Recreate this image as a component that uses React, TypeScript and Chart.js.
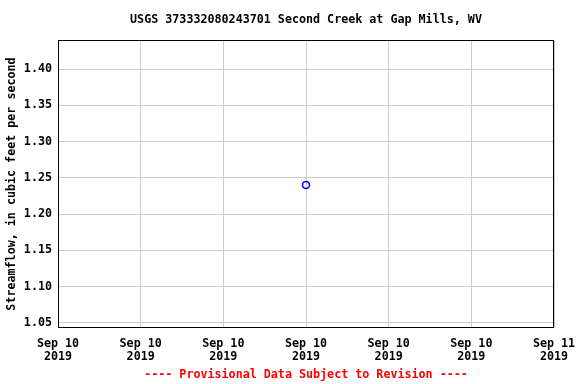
import React, { useEffect, useRef } from "react";
import { Chart, registerables } from "chart.js";

Chart.register(...registerables);

const titleText = "USGS 373332080243701 Second Creek at Gap Mills, WV";
const yAxisTitle = "Streamflow, in cubic feet per second";
const footerText = "---- Provisional Data Subject to Revision ----";
// hours since Sep 10 2019 00:00
const pointHours = [12];
const pointValues = [1.24];
const xTickHours = [0, 4, 8, 12, 16, 20, 24];
const xTickDates = ["Sep 10", "Sep 10", "Sep 10", "Sep 10", "Sep 10", "Sep 10", "Sep 11"];
const xTickYears = ["2019", "2019", "2019", "2019", "2019", "2019", "2019"];

const FONT = "'DejaVu Sans Mono', 'Liberation Mono', monospace";
const FS = 11.7;

export default function App() {
  const ref = useRef<HTMLCanvasElement | null>(null);
  useEffect(() => {
    document.body.style.margin = "0";
    const ctx = ref.current!;
    const chart = new Chart(ctx, {
      type: "scatter",
      data: {
        datasets: [
          {
            data: pointHours.map((h, i) => ({ x: h, y: pointValues[i] })),
            borderColor: "#0000ff",
            backgroundColor: "rgba(0,0,0,0)",
            pointRadius: 3.5,
            pointBorderWidth: 1.5,
            showLine: false,
          },
        ],
      },
      options: {
        animation: false,
        responsive: false,
        layout: { padding: { top: 0, right: 22, bottom: 0, left: 0 } },
        plugins: {
          legend: { display: false },
          tooltip: { enabled: false },
          title: {
            display: true,
            fullSize: false,
            text: titleText,
            color: "#000",
            font: { family: FONT, size: FS, weight: "bold", lineHeight: 1.2 },
            padding: { top: 12.5, bottom: 13.5 },
          },
          subtitle: {
            display: true,
            fullSize: false,
            position: "bottom",
            text: footerText,
            color: "#ff0000",
            font: { family: FONT, size: FS, weight: "bold", lineHeight: 1.2 },
            padding: { top: 0, bottom: 2 },
          },
        },
        scales: {
          x: {
            type: "linear",
            min: 0,
            max: 24,
            afterFit: (s: any) => {
              s.height = 40;
              s.paddingLeft = 0;
              s.paddingRight = 0;
            },
            afterBuildTicks: (s: any) => {
              s.ticks = xTickHours.map((v) => ({ value: v }));
            },
            ticks: {
              autoSkip: false,
              maxRotation: 0,
              padding: 10,
              color: "#000",
              font: { family: FONT, size: FS, weight: "bold", lineHeight: 1.07 },
              callback: (v: any) => {
                const i = xTickHours.indexOf(Number(v));
                return i >= 0 ? [xTickDates[i], xTickYears[i]] : "";
              },
            },
            grid: { color: "#cccccc", drawTicks: false, lineWidth: 1 },
            border: { display: false },
          },
          y: {
            min: 1.043,
            max: 1.44,
            afterFit: (s: any) => {
              s.width = 58;
              s.paddingTop = 0;
              s.paddingBottom = 0;
            },
            ticks: {
              stepSize: 0.05,
              includeBounds: false,
              padding: 6,
              color: "#000",
              font: { family: FONT, size: FS, weight: "bold" },
              callback: (v: any) => Number(v).toFixed(2),
            },
            grid: { color: "#cccccc", drawTicks: false, lineWidth: 1 },
            border: { display: false },
            title: {
              display: true,
              text: yAxisTitle,
              color: "#000",
              font: { family: FONT, size: FS, weight: "bold", lineHeight: 1.2 },
              padding: { top: 5, bottom: 0 },
            },
          },
        },
      },
      plugins: [
        {
          id: "frame",
          afterDatasetsDraw(c: any) {
            const a = c.chartArea;
            const g = c.ctx;
            g.save();
            g.strokeStyle = "#000";
            g.lineWidth = 1;
            g.strokeRect(Math.round(a.left) + 0.5, Math.round(a.top) + 0.5, Math.round(a.right - a.left) - 1, Math.round(a.bottom - a.top) - 1);
            g.restore();
          },
        },
      ],
    } as any);
    return () => chart.destroy();
  }, []);
  return <canvas ref={ref} width={576} height={384} style={{ display: "block" }} />;
}
